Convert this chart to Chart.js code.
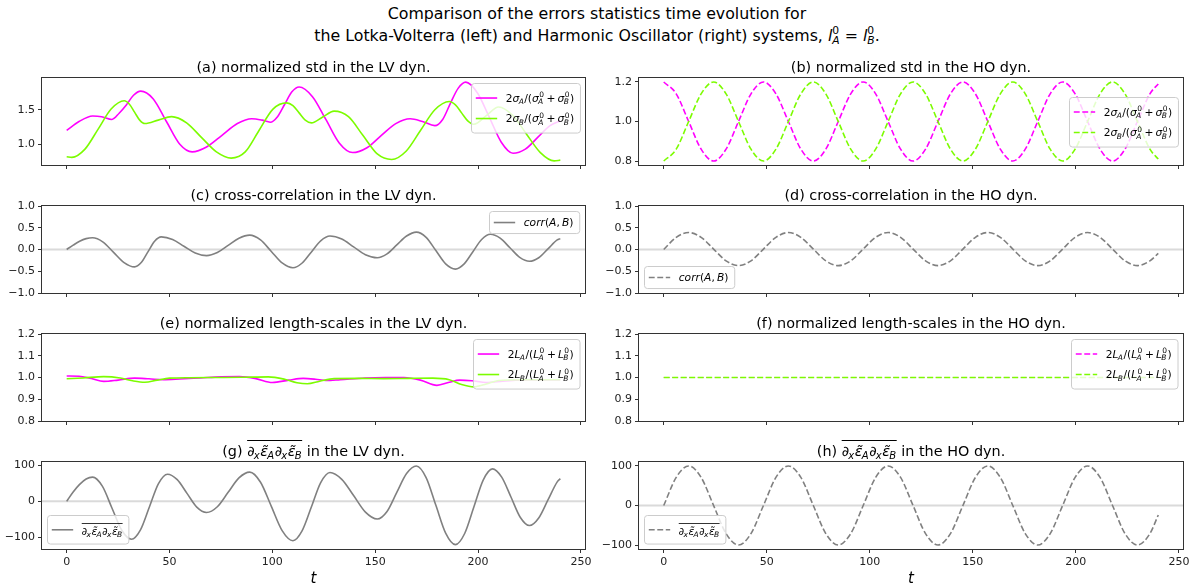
<!DOCTYPE html>
<html>
<head>
<meta charset="utf-8">
<title>Error statistics time evolution: Lotka-Volterra vs Harmonic Oscillator</title>
<script src="https://cdn.jsdelivr.net/npm/chart.js@4.4.1/dist/chart.umd.min.js"></script>
<style>
  html, body { margin: 0; padding: 0; background: #fff; }
  body { position: relative; width: 1194px; height: 587px; overflow: hidden; font-family: "DejaVu Sans", sans-serif; }
  canvas { position: absolute; }
  #suptitle { position: absolute; left: 0; top: 3px; width: 1194px; text-align: center; font-size: 15.8px; line-height: 22px; color: #000; }
  .ss { display: inline-block; vertical-align: -0.3em; font-size: 0.68em; line-height: 0.95; text-align: left; }
  .ss span { display: block; }
  .ss .lo { font-style: italic; }
</style>
</head>
<body>
<div id="suptitle">Comparison of the errors statistics time evolution for<br>the Lotka-Volterra (left) and Harmonic Oscillator (right) systems, <i>l</i><span class="ss"><span>0</span><span class="lo">A</span></span> = <i>l</i><span class="ss"><span>0</span><span class="lo">B</span></span>.</div>
<script>
// ---------------- data ----------------
const xTicks = [0, 50, 100, 150, 200, 250];

// (a) Lotka-Volterra, normalized std of A and B
const lvStdA_t = [0, 6, 12.6, 17, 22, 25.5, 29, 32.5, 36, 42, 48.5, 55, 61, 68, 75.5, 83, 90, 95, 99, 102.5, 106, 109.5, 113, 119.5, 126, 132.5, 139, 146, 153, 160, 167, 173, 179, 182.8, 186.5, 190.3, 194, 199.8, 205.5, 211.3, 217, 223, 229, 235, 240];
const lvStdA   = [1.20, 1.33, 1.41, 1.40, 1.36, 1.45, 1.57, 1.71, 1.77, 1.66, 1.33, 1.00, 0.89, 0.96, 1.13, 1.30, 1.37, 1.35, 1.32, 1.40, 1.58, 1.76, 1.83, 1.69, 1.36, 1.02, 0.88, 0.95, 1.13, 1.30, 1.37, 1.33, 1.27, 1.36, 1.59, 1.81, 1.90, 1.74, 1.39, 1.03, 0.87, 0.93, 1.10, 1.27, 1.34];
const lvStdB_t = [0, 2.5, 8.9, 15.3, 21.6, 28, 30.5, 33, 35.5, 38, 44.5, 51, 58.3, 65.5, 72.8, 80, 86.8, 93.5, 100.3, 107, 110, 113, 116, 119, 124.5, 130, 137, 144, 151, 158, 165, 172, 179, 186, 189, 192, 195, 198, 204, 210, 216.8, 223.5, 230.3, 237, 240];
const lvStdB   = [0.82, 0.81, 0.93, 1.22, 1.51, 1.63, 1.58, 1.465, 1.35, 1.30, 1.35, 1.40, 1.31, 1.10, 0.89, 0.80, 0.89, 1.20, 1.51, 1.60, 1.56, 1.455, 1.35, 1.31, 1.395, 1.48, 1.40, 1.13, 0.86, 0.78, 0.90, 1.20, 1.50, 1.62, 1.57, 1.455, 1.34, 1.29, 1.415, 1.54, 1.42, 1.15, 0.88, 0.76, 0.77];
const lvStdTicks = [1.0, 1.5];

// sampling times shared by the harmonic-oscillator panels
const ho_t = [0, 6.05, 12.1, 18.15, 24.2, 30.25, 36.3, 42.35, 48.4, 54.45, 60.5, 66.55, 72.6, 78.65, 84.7, 90.75, 96.8, 102.85, 108.9, 114.95, 121, 127.05, 133.1, 139.15, 145.2, 151.25, 157.3, 163.35, 169.4, 175.45, 181.5, 187.55, 193.6, 199.65, 205.7, 211.75, 217.8, 223.85, 229.9, 235.95, 240];

// (b) Harmonic oscillator, normalized std of A and B
const hoStdA = [1.2, 1.14, 1.0, 0.86, 0.8, 0.86, 1.0, 1.14, 1.2, 1.14, 1.0, 0.86, 0.8, 0.86, 1.0, 1.14, 1.2, 1.14, 1.0, 0.86, 0.8, 0.86, 1.0, 1.14, 1.2, 1.14, 1.0, 0.86, 0.8, 0.86, 1.0, 1.14, 1.2, 1.14, 1.0, 0.86, 0.8, 0.86, 1.0, 1.14, 1.19];
const hoStdB = [0.8, 0.86, 1.0, 1.14, 1.2, 1.14, 1.0, 0.86, 0.8, 0.86, 1.0, 1.14, 1.2, 1.14, 1.0, 0.86, 0.8, 0.86, 1.0, 1.14, 1.2, 1.14, 1.0, 0.86, 0.8, 0.86, 1.0, 1.14, 1.2, 1.14, 1.0, 0.86, 0.8, 0.86, 1.0, 1.14, 1.2, 1.14, 1.0, 0.86, 0.81];
const hoStdTicks = [0.8, 1.0, 1.2];

// (c) Lotka-Volterra, cross-correlation
const lvCorr_t = [0, 3.15, 6.3, 9.45, 12.6, 17.7, 22.8, 27.9, 33, 36.25, 39.5, 42.75, 46, 51.5, 57, 62.5, 68, 73.25, 78.5, 83.75, 89, 94.25, 99.5, 104.75, 110, 114.5, 119, 123.5, 128, 133.75, 139.5, 145.25, 151, 155.75, 160.5, 165.25, 170, 174.75, 179.5, 184.25, 189, 193.25, 197.5, 201.75, 206, 210.75, 215.5, 220.25, 225, 229.5, 234, 238.5, 240];
const lvCorr   = [0, 0.10, 0.19, 0.25, 0.27, 0.17, -0.065, -0.30, -0.40, -0.30, -0.055, 0.19, 0.29, 0.23, 0.075, -0.08, -0.14, -0.07, 0.095, 0.26, 0.33, 0.22, -0.045, -0.31, -0.42, -0.31, -0.055, 0.20, 0.31, 0.24, 0.06, -0.12, -0.19, -0.10, 0.105, 0.31, 0.40, 0.28, -0.025, -0.33, -0.45, -0.33, -0.05, 0.23, 0.35, 0.26, 0.04, -0.18, -0.27, -0.19, 0.015, 0.22, 0.25];
const corrTicks = [-1.0, -0.5, 0.0, 0.5, 1.0];

// (d) Harmonic oscillator, cross-correlation
const hoCorr = [0, 0.28, 0.39, 0.28, 0.01, -0.26, -0.37, -0.26, 0.01, 0.28, 0.39, 0.28, 0.01, -0.26, -0.37, -0.26, 0.01, 0.28, 0.39, 0.28, 0.01, -0.26, -0.37, -0.26, 0.01, 0.28, 0.39, 0.28, 0.01, -0.26, -0.37, -0.26, 0.01, 0.28, 0.39, 0.28, 0.01, -0.26, -0.37, -0.26, -0.09];

// (e) Lotka-Volterra, normalized length-scales
const lvLenA_t = [0, 6, 12, 18, 25, 33, 40, 47, 55, 65, 75, 84, 92, 100, 108, 115, 121, 126, 133, 145, 155, 164, 172, 180, 186, 191, 197, 204, 212, 225, 240];
const lvLenA   = [1.007, 1.006, 0.995, 0.982, 0.988, 0.997, 0.994, 0.990, 0.993, 0.998, 1.003, 1.004, 0.995, 0.977, 0.988, 0.996, 0.992, 0.986, 0.990, 0.998, 1.000, 1.000, 0.988, 0.964, 0.978, 0.988, 0.985, 0.977, 0.983, 0.990, 0.990];
const lvLenB_t = [0, 8, 18, 26, 32, 38, 44, 50, 60, 72, 85, 98, 106, 112, 117, 123, 130, 142, 154, 166, 178, 186, 192, 198, 204, 210, 222, 240];
const lvLenB   = [0.994, 0.998, 1.004, 0.998, 0.985, 0.978, 0.988, 0.997, 0.999, 1.000, 1.001, 1.003, 0.992, 0.976, 0.971, 0.983, 0.995, 0.996, 0.995, 0.996, 0.997, 0.990, 0.968, 0.957, 0.970, 0.986, 0.990, 0.990];
const lenTicks = [0.8, 0.9, 1.0, 1.1, 1.2];

// (f) Harmonic oscillator, normalized length-scales
const hoLen_t = [0, 60, 120, 180, 240];
const hoLenA  = [1.0, 1.0, 1.0, 1.0, 1.0];
const hoLenB  = [1.0, 1.0, 1.0, 1.0, 1.0];

// (g) Lotka-Volterra, mean product of the error gradients
const lvGrad_t = [0, 3.15, 6.3, 9.45, 12.6, 17.33, 22.05, 26.78, 31.5, 35.88, 40.25, 44.63, 49, 53.75, 58.5, 63.25, 68, 73.25, 78.5, 83.75, 89, 94.25, 99.5, 104.75, 110, 114.5, 119, 123.5, 128, 133.75, 139.5, 145.25, 151, 155.75, 160.5, 165.25, 170, 174.75, 179.5, 184.25, 189, 193.5, 198, 202.5, 207, 211.5, 216, 220.5, 225, 229.5, 234, 238.5, 240];
const lvGrad   = [0, 26, 47, 62, 67, 42, -19, -80, -105, -79, -15, 49, 75, 60, 22, -16, -31, -15, 25, 65, 81, 53, -14, -81, -109, -81, -15, 52, 80, 61, 16, -30, -49, -28, 25, 77, 98, 66, -11, -88, -120, -89, -15, 59, 90, 67, 12, -44, -67, -46, 4, 54, 63];
const gradTicks = [-100, 0, 100];

// (h) Harmonic oscillator, mean product of the error gradients
const hoGrad = [0, 71, 100, 71, 0, -71, -100, -71, 0, 71, 100, 71, 0, -71, -100, -71, 0, 71, 100, 71, 0, -71, -100, -71, 0, 71, 100, 71, 0, -71, -100, -71, 0, 71, 100, 71, 0, -71, -100, -71, -24];

// ---------------- styling helpers ----------------
const FAMILY = '"DejaVu Sans", sans-serif';
const MAGENTA = '#ff00ff', LGREEN = '#7cfc00', GRAY = '#808080';
const LINE_W = 1.6;
const DASH = [5.9, 2.6];
const fontOf = (italic, size) => (italic ? 'italic ' : '') + size + 'px ' + FAMILY;
const T = (t, i, sub, sup, ov) => ({ t, i: !!i, sub, sup, ov: !!ov });

// draws (or measures) a run of text pieces with sub/superscripts and an optional overline
function rich(ctx, toks, x, y, size, draw) {
  let cx = x, ovA = null, ovB = null;
  const ss = size * 0.7;
  ctx.textAlign = 'left';
  ctx.textBaseline = 'alphabetic';
  for (const k of toks) {
    ctx.font = fontOf(k.i, size);
    const w = ctx.measureText(k.t).width;
    if (draw) ctx.fillText(k.t, cx, y);
    let extra = 0;
    if (k.sub) {
      ctx.font = fontOf(true, ss);
      const sw = ctx.measureText(k.sub).width;
      const sx = cx + w - (k.i ? size * 0.06 : 0);
      if (draw) ctx.fillText(k.sub, sx, y + size * 0.24);
      extra = Math.max(extra, sx + sw - (cx + w));
    }
    if (k.sup) {
      ctx.font = fontOf(false, ss);
      const sw = ctx.measureText(k.sup).width;
      const sx = cx + w + (k.i ? size * 0.04 : 0);
      if (draw) ctx.fillText(k.sup, sx, y - size * 0.42);
      extra = Math.max(extra, sx + sw - (cx + w));
    }
    if (k.sub || k.sup) extra += size * 0.04;
    if (k.ov) { if (ovA === null) ovA = cx; ovB = cx + w + extra; }
    cx += w + extra;
  }
  if (draw && ovA !== null) {
    ctx.save();
    ctx.lineWidth = Math.max(0.8, size * 0.07);
    const oy = Math.round(y - size * 1.08) + 0.5;
    ctx.beginPath(); ctx.moveTo(ovA, oy); ctx.lineTo(ovB, oy); ctx.stroke();
    ctx.restore();
  }
  return cx - x;
}

// labels
const sigLabel = s => [T('2'), T('σ', 1, s), T('/('), T('σ', 1, 'A', '0'), T('\u2009+\u2009'), T('σ', 1, 'B', '0'), T(')')];
const lenLabel = s => [T('2'), T('L', 1, s), T('/('), T('L', 1, 'A', '0'), T('\u2009+\u2009'), T('L', 1, 'B', '0'), T(')')];
const corrLabel = [T('corr', 1), T('('), T('A', 1), T(',\u2009'), T('B', 1), T(')')];
const gradMath = [T('∂', 1, 'x', null, 1), T('ε̃', 1, 'A', null, 1), T('∂', 1, 'x', null, 1), T('ε̃', 1, 'B', null, 1)];

// matplotlib-like axes decorations: zero line, full frame, title and legend box
const mplAxes = {
  id: 'mplAxes',
  beforeDatasetsDraw(chart, args, o) {
    if (!o.zeroLine) return;
    const ctx = chart.ctx, a = chart.chartArea;
    const y = chart.scales.y.getPixelForValue(0);
    ctx.save();
    ctx.strokeStyle = 'rgba(211,211,211,0.85)';
    ctx.lineWidth = 2;
    ctx.beginPath(); ctx.moveTo(a.left, y); ctx.lineTo(a.right, y); ctx.stroke();
    ctx.restore();
  },
  afterDatasetsDraw(chart, args, o) {
    const ctx = chart.ctx, a = chart.chartArea;
    ctx.save();
    // frame
    ctx.strokeStyle = '#333';
    ctx.lineWidth = 1;
    ctx.strokeRect(Math.round(a.left) - 0.5, Math.round(a.top) - 0.5, Math.round(a.right) - Math.round(a.left) + 1, Math.round(a.bottom) - Math.round(a.top) + 1);
    // title
    if (o.title) {
      ctx.fillStyle = '#000'; ctx.strokeStyle = '#000';
      const fs = 14.4;
      const w = rich(ctx, o.title, 0, 0, fs, false);
      rich(ctx, o.title, (a.left + a.right) / 2 - w / 2, a.top - 6.4, fs, true);
    }
    // legend
    const L = o.legend;
    if (L) {
      const fs = 10.7, pad = 0.4 * fs, hl = 2 * fs, htp = 0.8 * fs, bap = 0.5 * fs;
      const tw = Math.max(...L.rows.map(r => rich(ctx, r, 0, 0, fs, false)));
      const bw = pad * 2 + hl + htp + tw + 2;
      const bh = pad * 2 + L.rows.length * L.rowH;
      let bx, by;
      if (L.loc === 'ur') { bx = a.right - bap - bw; by = a.top + bap; }
      else if (L.loc === 'cr') { bx = a.right - bap - bw; by = (a.top + a.bottom) / 2 - bh / 2; }
      else { bx = a.left + bap; by = a.bottom - bap - bh; }
      bx = Math.round(bx) + 0.5; by = Math.round(by) + 0.5;
      ctx.beginPath();
      if (ctx.roundRect) ctx.roundRect(bx, by, bw, bh, 3); else ctx.rect(bx, by, bw, bh);
      ctx.fillStyle = 'rgba(255,255,255,0.8)';
      ctx.fill();
      ctx.strokeStyle = '#cccccc'; ctx.lineWidth = 1;
      ctx.stroke();
      L.rows.forEach((r, i) => {
        const ds = chart.data.datasets[i];
        const cy = by + pad + L.rowH * (i + 0.5);
        ctx.strokeStyle = ds.borderColor;
        ctx.lineWidth = LINE_W;
        ctx.setLineDash(ds.borderDash || []);
        ctx.beginPath(); ctx.moveTo(bx + pad, cy); ctx.lineTo(bx + pad + hl, cy); ctx.stroke();
        ctx.setLineDash([]);
        ctx.fillStyle = '#000'; ctx.strokeStyle = '#000';
        rich(ctx, r, bx + pad + hl + htp, cy + fs * 0.36 + (L.dy || 0), fs, true);
      });
    }
    ctx.restore();
  }
};

const pts = (t, v) => t.map((x, i) => ({ x, y: v[i] }));

const PANELS = [
  { col: 0, row: 0, ymin: 0.70, ymax: 1.96, yTicks: lvStdTicks, dec: 1,
    title: [T('(a) normalized std in the LV dyn.')],
    series: [{ t: lvStdA_t, v: lvStdA, color: MAGENTA }, { t: lvStdB_t, v: lvStdB, color: LGREEN }],
    legend: { loc: 'ur', rowH: 20.5, rows: [sigLabel('A'), sigLabel('B')] } },
  { col: 1, row: 0, ymin: 0.78, ymax: 1.22, yTicks: hoStdTicks, dec: 1,
    title: [T('(b) normalized std in the HO dyn.')],
    series: [{ t: ho_t, v: hoStdA, color: MAGENTA, dash: true }, { t: ho_t, v: hoStdB, color: LGREEN, dash: true }],
    legend: { loc: 'cr', rowH: 20.5, rows: [sigLabel('A'), sigLabel('B')] } },
  { col: 0, row: 1, ymin: -1, ymax: 1, yTicks: corrTicks, dec: 1, zeroLine: true,
    title: [T('(c) cross-correlation in the LV dyn.')],
    series: [{ t: lvCorr_t, v: lvCorr, color: GRAY }],
    legend: { loc: 'ur', rowH: 13.5, rows: [corrLabel] } },
  { col: 1, row: 1, ymin: -1, ymax: 1, yTicks: corrTicks, dec: 1, zeroLine: true,
    title: [T('(d) cross-correlation in the HO dyn.')],
    series: [{ t: ho_t, v: hoCorr, color: GRAY, dash: true }],
    legend: { loc: 'll', rowH: 13.5, rows: [corrLabel] } },
  { col: 0, row: 2, ymin: 0.8, ymax: 1.2, yTicks: lenTicks, dec: 1,
    title: [T('(e) normalized length-scales in the LV dyn.')],
    series: [{ t: lvLenA_t, v: lvLenA, color: MAGENTA }, { t: lvLenB_t, v: lvLenB, color: LGREEN }],
    legend: { loc: 'ur', rowH: 20.5, rows: [lenLabel('A'), lenLabel('B')] } },
  { col: 1, row: 2, ymin: 0.8, ymax: 1.2, yTicks: lenTicks, dec: 1,
    title: [T('(f) normalized length-scales in the HO dyn.')],
    // the A curve lies exactly under the B curve; a slightly thinner stroke keeps it fully covered
    series: [{ t: hoLen_t, v: hoLenA, color: MAGENTA, dash: true, width: 1.0 }, { t: hoLen_t, v: hoLenB, color: LGREEN, dash: true }],
    legend: { loc: 'ur', rowH: 20.5, rows: [lenLabel('A'), lenLabel('B')] } },
  { col: 0, row: 3, ymin: -132, ymax: 109, yTicks: gradTicks, dec: 0, zeroLine: true,
    title: [T('(g) ')].concat(gradMath, [T(' in the LV dyn.')]),
    series: [{ t: lvGrad_t, v: lvGrad, color: GRAY }],
    legend: { loc: 'll', rowH: 20, dy: 1, rows: [gradMath] } },
  { col: 1, row: 3, ymin: -110, ymax: 110, yTicks: gradTicks, dec: 0, zeroLine: true,
    title: [T('(h) ')].concat(gradMath, [T(' in the HO dyn.')]),
    series: [{ t: ho_t, v: hoGrad, color: GRAY, dash: true }],
    legend: { loc: 'll', rowH: 20, dy: 1, rows: [gradMath] } }
];

const fmtTick = (v, d) => v.toFixed(d).replace('-', '\u2212');

PANELS.forEach(p => {
  const bottomRow = p.row === 3;
  const PAD_TOP = 30, FRAME_H = 87, Y_AXIS_W = 42;
  const xAxisH = bottomRow ? 40 : 10;
  const left = p.col === 0 ? 0 : 597;
  const width = 597;
  const padRight = p.col === 0 ? 12 : 11;
  const frameTop = 78 + 128 * p.row;
  const top = frameTop - PAD_TOP;
  const height = PAD_TOP + FRAME_H + xAxisH;

  const cv = document.createElement('canvas');
  cv.width = width; cv.height = height;
  cv.style.left = left + 'px'; cv.style.top = top + 'px';
  cv.style.width = width + 'px'; cv.style.height = height + 'px';
  document.body.appendChild(cv);

  const gridOpts = { drawOnChartArea: false, drawTicks: true, tickLength: 4, tickColor: '#333', tickWidth: 1, color: '#333', lineWidth: 1 };
  const n = p.series.length;

  new Chart(cv, {
    type: 'line',
    data: {
      datasets: p.series.map((s, i) => ({
        data: pts(s.t, s.v),
        borderColor: s.color,
        borderWidth: s.width || LINE_W,
        borderDash: s.dash ? DASH : [],
        pointRadius: 0,
        fill: false,
        order: n - 1 - i,          // later series are painted on top
        cubicInterpolationMode: 'monotone'
      }))
    },
    options: {
      responsive: false,
      animation: false,
      events: [],
      devicePixelRatio: 1,
      layout: { padding: { top: PAD_TOP, right: padRight, left: 0, bottom: 0 } },
      scales: {
        x: {
          type: 'linear', min: -12, max: 252,
          afterBuildTicks: s => { s.ticks = xTicks.map(v => ({ value: v })); },
          afterFit: s => { s.height = xAxisH; },
          grid: gridOpts,
          border: { display: false },
          ticks: { display: bottomRow, autoSkip: false, maxRotation: 0, padding: 3, color: '#222',
                   font: { family: FAMILY, size: 11 }, callback: v => fmtTick(v, 0) },
          title: { display: bottomRow, text: 't', color: '#000', padding: { top: 0, bottom: 1 },
                   font: { family: FAMILY, size: 15, style: 'italic' } }
        },
        y: {
          min: p.ymin, max: p.ymax,
          afterBuildTicks: s => { s.ticks = p.yTicks.map(v => ({ value: v })); },
          afterFit: s => { s.width = Y_AXIS_W; },
          grid: gridOpts,
          border: { display: false },
          ticks: { padding: 3, color: '#222', font: { family: FAMILY, size: 11 }, callback: v => fmtTick(v, p.dec) }
        }
      },
      plugins: {
        legend: { display: false },
        tooltip: { enabled: false },
        title: { display: false },
        mplAxes: { zeroLine: !!p.zeroLine, title: p.title, legend: p.legend }
      }
    },
    plugins: [mplAxes]
  });
});
</script>
</body>
</html>
